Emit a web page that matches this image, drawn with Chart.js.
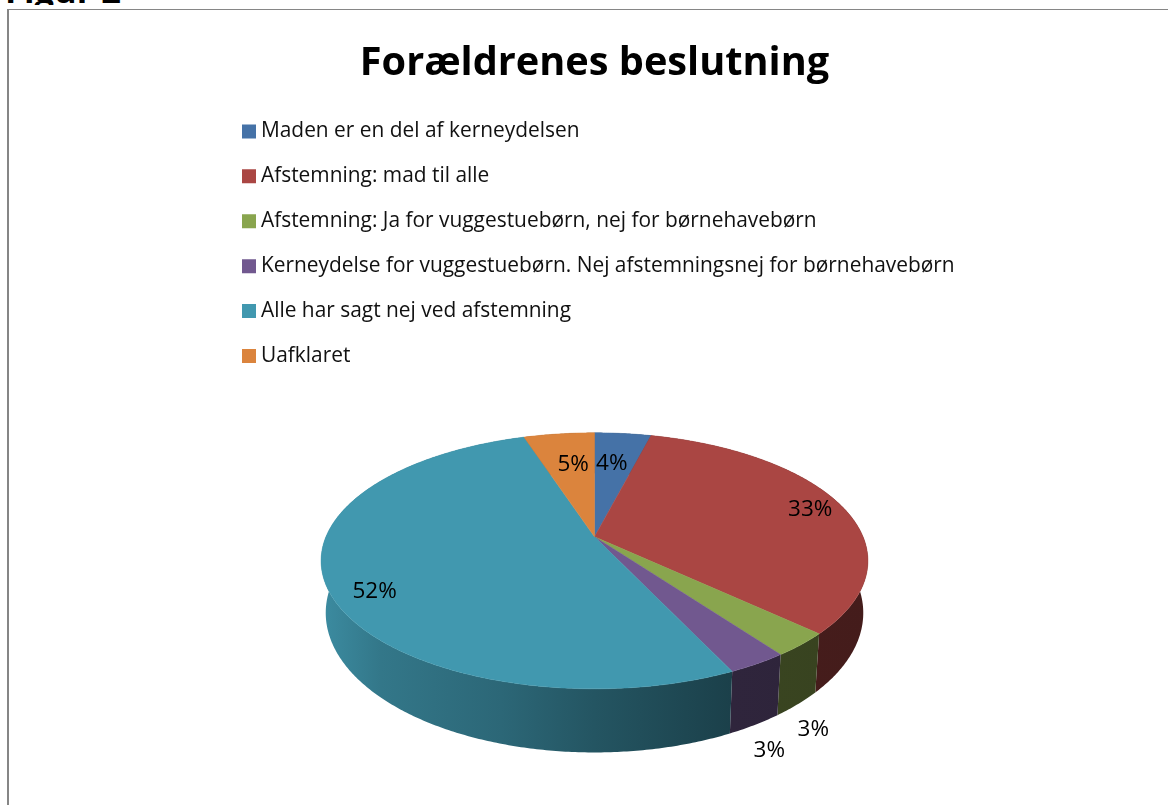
<!DOCTYPE html>
<html>
<head>
<meta charset="utf-8">
<title>Forældrenes beslutning</title>
<script src="https://cdn.jsdelivr.net/npm/chart.js@4/dist/chart.umd.min.js"></script>
<style>
html, body { margin: 0; padding: 0; background: #fff; overflow: hidden; }
#page { position: relative; width: 1168px; height: 805px; overflow: hidden; }
#figur { position: absolute; left: 5px; top: 0; width: 130px; height: 5px; overflow: hidden; }
#figur span { position: absolute; left: 0; top: -30px; font: bold 34.5px "Open Sans", sans-serif; line-height: 40px; color: #000; white-space: nowrap; }
#frame { position: absolute; left: 7px; top: 9px; width: 1170px; height: 810px; border: 1px solid #868686; border-left-width: 2px; box-sizing: border-box; }
canvas { position: absolute; left: 0; top: 0; }
</style>
</head>
<body>
<div id="page">
  <div id="figur"><span>Figur 2</span></div>
  <div id="frame"></div>
  <canvas id="pie-chart" width="1168" height="805"></canvas>
</div>
<script>
const chartTitle = "Forældrenes beslutning";
const categories = [
  "Maden er en del af kerneydelsen",
  "Afstemning: mad til alle",
  "Afstemning: Ja for vuggestuebørn, nej for børnehavebørn",
  "Kerneydelse for vuggestuebørn. Nej afstemningsnej for børnehavebørn",
  "Alle har sagt nej ved afstemning",
  "Uafklaret"
];
const shares = [4, 33, 3, 3, 52, 5];
const sliceColors = ["#4572A7", "#AA4643", "#89A54E", "#71588F", "#4198AF", "#DB843D"];

// label placement per slice: fraction of the radius, then a nudge in px
const labelRadius = [0.68, 0.875, 1.05, 1.05, 0.83, 0.68];
const labelNudgeX = [-3, 0, 0, 2, 0, 4];
const labelNudgeY = [1, 2, 79, 79, 15, 1];

// the tilted look of the original: a perspective view of the circle chart.js lays out
const tilt = { persp: 0.1875, topX: 1.119, topY: 0.5146, baseX: 1.10, baseY: 0.561, baseDrop: 0.208 };
// how dark the side wall gets from left to right
const wallShade = [[0, 0.92], [0.11, 0.78], [0.33, 0.68], [0.5, 0.56], [0.75, 0.42], [1, 0.40]];

function project(arc, angle, r, sx, sy, drop) {
  const u = Math.cos(angle) * r, v = Math.sin(angle) * r;
  const w = 1 - tilt.persp * v;
  return {
    x: arc.x + u * sx * arc.outerRadius / w,
    y: arc.y + v * sy * arc.outerRadius / w + drop * arc.outerRadius
  };
}

function shade(hex, f) {
  const n = parseInt(hex.slice(1), 16);
  return "rgb(" + Math.round((n >> 16) * f) + "," + Math.round(((n >> 8) & 255) * f) + "," + Math.round((n & 255) * f) + ")";
}

function arcSteps(arc) {
  const angles = [];
  const n = Math.max(4, Math.ceil((arc.endAngle - arc.startAngle) / 0.01));
  for (let i = 0; i <= n; i++) {
    angles.push(arc.startAngle + (arc.endAngle - arc.startAngle) * i / n);
  }
  return angles;
}

const tiltedPie = {
  id: "tiltedPie",
  beforeDatasetsDraw(chart) {
    const ctx = chart.ctx;
    const arcs = chart.getDatasetMeta(0).data;
    const cx = arcs[0].x, R = arcs[0].outerRadius;
    const x0 = cx - tilt.topX * R * 1.02, x1 = cx + tilt.topX * R * 1.02;

    // side walls first, the top surface covers whatever is behind it
    arcs.forEach((arc, i) => {
      const angles = arcSteps(arc);
      const grad = ctx.createLinearGradient(x0, 0, x1, 0);
      wallShade.forEach(s => grad.addColorStop(s[0], shade(sliceColors[i], s[1])));
      ctx.beginPath();
      angles.forEach(a => {
        const p = project(arc, a, 1, tilt.topX, tilt.topY, 0);
        ctx.lineTo(p.x, p.y);
      });
      angles.slice().reverse().forEach(a => {
        const p = project(arc, a, 1, tilt.baseX, tilt.baseY, tilt.baseDrop);
        ctx.lineTo(p.x, p.y);
      });
      ctx.closePath();
      ctx.fillStyle = grad;
      ctx.fill();
    });

    arcs.forEach((arc, i) => {
      ctx.beginPath();
      ctx.moveTo(arc.x, arc.y);
      arcSteps(arc).forEach(a => {
        const p = project(arc, a, 1, tilt.topX, tilt.topY, 0);
        ctx.lineTo(p.x, p.y);
      });
      ctx.closePath();
      ctx.fillStyle = sliceColors[i];
      ctx.strokeStyle = sliceColors[i];
      ctx.lineWidth = 0.5;
      ctx.fill();
      ctx.stroke();
    });

    ctx.save();
    ctx.fillStyle = "#000";
    ctx.font = '22.5px "Open Sans", sans-serif';
    ctx.textAlign = "center";
    ctx.textBaseline = "middle";
    arcs.forEach((arc, i) => {
      const mid = (arc.startAngle + arc.endAngle) / 2;
      const p = project(arc, mid, labelRadius[i], tilt.topX, tilt.topY, 0);
      ctx.fillText(shares[i] + "%", p.x + labelNudgeX[i], p.y + labelNudgeY[i]);
    });
    ctx.restore();
    return false;
  },
  afterLayout(chart) {
    // the legend sits in one column above the pie, left aligned
    const lg = chart.legend, pad = lg.options.labels.padding;
    lg.left = 247.5 - pad;
    lg.top = 121 - pad;
    lg.right = chart.width;
    lg.bottom = chart.height;
  }
};

new Chart(document.getElementById("pie-chart"), {
  type: "pie",
  data: {
    labels: categories,
    datasets: [{ data: shares, backgroundColor: sliceColors, borderWidth: 0 }]
  },
  options: {
    responsive: false,
    animation: false,
    layout: { padding: { left: 354.5, right: 333.5, top: 0, bottom: 28 } },
    plugins: {
      title: {
        display: true,
        text: chartTitle,
        color: "#000",
        fullSize: false,
        font: { family: '"Open Sans", sans-serif', size: 39.7, weight: "bold" },
        padding: { top: 40, bottom: 209 }
      },
      legend: {
        position: "chartArea",
        align: "start",
        labels: {
          usePointStyle: true,
          pointStyle: "rect",
          boxWidth: 3,
          boxHeight: 14,
          padding: 24,
          color: "#111",
          font: { family: '"Open Sans", sans-serif', size: 20.9 }
        }
      },
      tooltip: { enabled: false }
    }
  },
  plugins: [tiltedPie]
});
</script>
</body>
</html>
